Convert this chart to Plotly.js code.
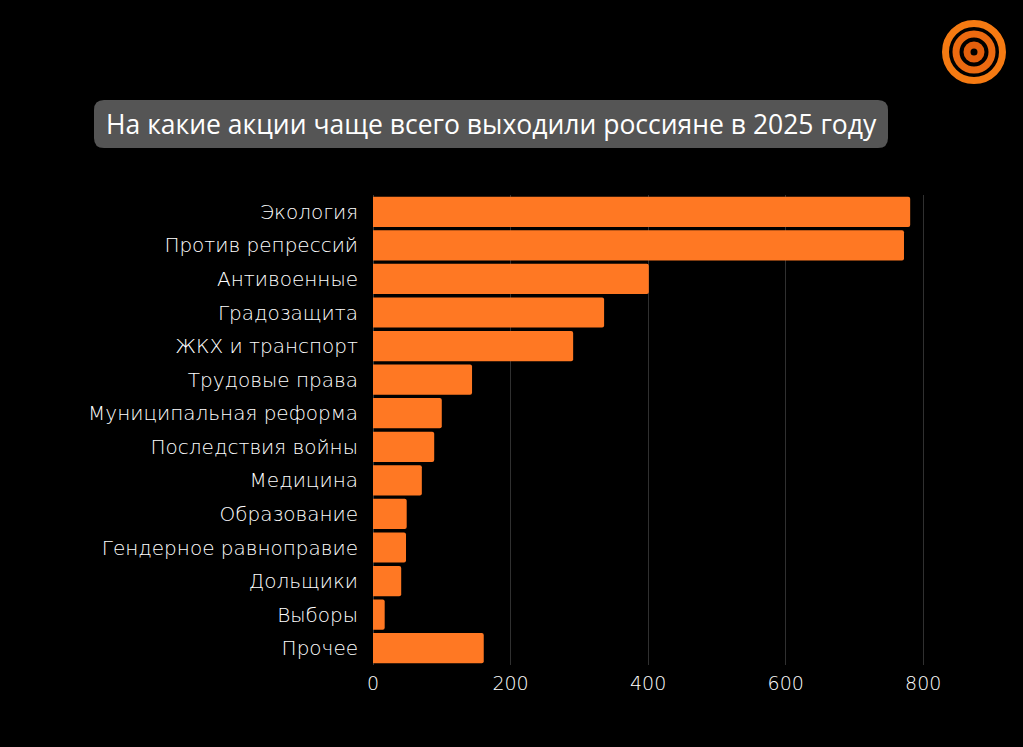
<!DOCTYPE html>
<html><head><meta charset="utf-8">
<script src="https://cdn.plot.ly/plotly-3.0.1.min.js"></script>
<style>html,body{margin:0;padding:0;background:#000;}</style>
</head><body>
<div id="chart" style="width:1023px;height:747px;"></div>
<script>
var categories = ["Экология","Против репрессий","Антивоенные","Градозащита","ЖКХ и транспорт","Трудовые права","Муниципальная реформа","Последствия войны","Медицина","Образование","Гендерное равноправие","Дольщики","Выборы","Прочее"];
var values = [781, 772, 401, 336, 291, 144, 100, 89, 71, 49, 48, 41, 17, 161];
var tickValues = [0, 200, 400, 600, 800];
var titleText = "На какие акции чаще всего выходили россияне в 2025 году";

var W = 1023, H = 747, L = 373, R = 86, T = 195, B = 82;
var pw = W - L - R, ph = H - T - B;
function px(x){ return (x - L) / pw; }
function py(y){ return (H - B - y) / ph; }
function roundRect(x0, y0, x1, y1, r){
  var rx = r / pw, ry = r / ph;
  var a = px(x0), b = px(x1), top = py(y0), bot = py(y1);
  return 'M' + (a+rx) + ',' + top + ' L' + (b-rx) + ',' + top +
    ' Q' + b + ',' + top + ' ' + b + ',' + (top-ry) +
    ' L' + b + ',' + (bot+ry) + ' Q' + b + ',' + bot + ' ' + (b-rx) + ',' + bot +
    ' L' + (a+rx) + ',' + bot + ' Q' + a + ',' + bot + ' ' + a + ',' + (bot+ry) +
    ' L' + a + ',' + (top-ry) + ' Q' + a + ',' + top + ' ' + (a+rx) + ',' + top + ' Z';
}
function ring(r, w, color){
  return {type:'circle', xref:'paper', yref:'paper', xsizemode:'pixel', ysizemode:'pixel',
    xanchor: px(974), yanchor: py(52), x0:-r, x1:r, y0:-r, y1:r,
    line:{color:color, width:w}, fillcolor:'rgba(0,0,0,0)', layer:'above'};
}

var trace = {
  type:'bar', orientation:'h', x: values, y: categories,
  marker:{color:'#FF7823', line:{width:0}},
  hoverinfo:'x+y'
};
var layout = {
  width:W, height:H,
  paper_bgcolor:'#000', plot_bgcolor:'#000',
  margin:{l:L, r:R, t:T, b:B},
  bargap:0.1, barcornerradius:2,
  showlegend:false,
  font:{family:'Open Sans, sans-serif', color:'#fff'},
  xaxis:{range:[0, 820], tickvals:tickValues, ticktext:tickValues.map(String),
    showgrid:true, gridcolor:'#303030', gridwidth:1, zeroline:true, zerolinecolor:'#3a3a3a',
    zerolinewidth:1, showline:false, ticks:'', ticklabelstandoff:5, fixedrange:true,
    tickfont:{family:'DejaVu Sans, sans-serif', size:19, color:'#fff', weight:200}},
  yaxis:{autorange:'reversed', showgrid:false, zeroline:false, ticks:'', ticklen:0,
    ticklabelstandoff:14,
    tickfont:{family:'DejaVu Sans, sans-serif', size:20, color:'#fff', weight:200}},
  shapes:[
    {type:'path', xref:'paper', yref:'paper', path: roundRect(94, 100, 888, 148, 10),
      fillcolor:'#555555', line:{width:0}, layer:'below'},
    ring(28.5, 7, '#F57A12'),
    ring(18, 7, '#EC6A10'),
    ring(7, 7, '#E35F0C')
  ],
  annotations:[
    {xref:'paper', yref:'paper', x:px(491), y:py(124), xanchor:'center', yanchor:'middle',
      text:titleText, showarrow:false, font:{family:'Open Sans, sans-serif', size:26.5, color:'#fff'}}
  ]
};
Plotly.newPlot('chart', [trace], layout, {displayModeBar:false, staticPlot:true});
</script>
</body></html>
